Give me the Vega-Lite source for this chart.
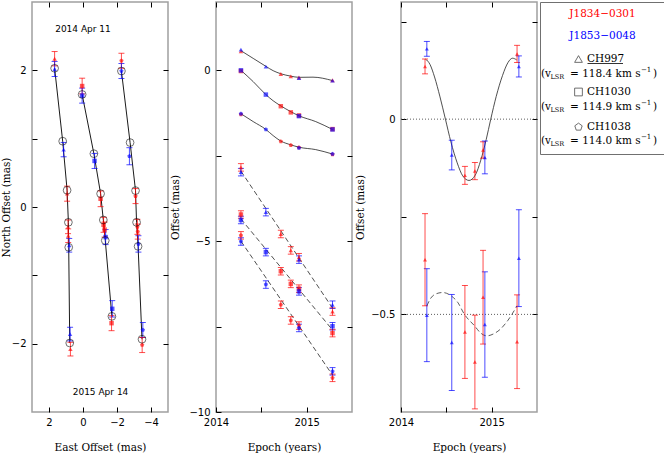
{
"$schema": "https://vega.github.io/schema/vega-lite/v6.json",
"background": "white",
"padding": {"left": 0, "top": 0, "right": 0, "bottom": 0},
"spacing": 0,
"config": {
  "view": {"stroke": "#a0a0a0", "strokeWidth": 1.5},
  "axis": {"domain": false, "grid": false, "tickSize": -5, "tickColor": "black", "tickWidth": 1, "labelPadding": 10, "labelFont": "DejaVu Sans", "labelFontSize": 10, "labelColor": "black", "labelFlush": false, "labelOverlap": false, "titleFont": "DejaVu Serif", "titleFontSize": 10.5, "titleFontWeight": "normal", "titleColor": "black"},
  "axisX": {"titlePadding": 15},
  "axisY": {"titlePadding": 1},
  "axisTop": {"labelPadding": 0, "minExtent": 0, "maxExtent": 0},
  "axisRight": {"labelPadding": 0, "minExtent": 0, "maxExtent": 0},
  "text": {"font": "DejaVu Serif"}
},
"datasets": {
  "track": [
    {"ch":"CH997","epoch":2014.275,"E":1.67,"N":2.03},
    {"ch":"CH997","epoch":2014.55,"E":1.195,"N":0.963},
    {"ch":"CH997","epoch":2014.715,"E":0.935,"N":0.245},
    {"ch":"CH997","epoch":2014.825,"E":0.86,"N":-0.224},
    {"ch":"CH997","epoch":2014.915,"E":0.84,"N":-0.59},
    {"ch":"CH997","epoch":2015.285,"E":0.78,"N":-1.99},
    {"ch":"CH1030","epoch":2014.275,"E":0.05,"N":1.647},
    {"ch":"CH1030","epoch":2014.55,"E":-0.64,"N":0.78},
    {"ch":"CH1030","epoch":2014.715,"E":-1.035,"N":0.195},
    {"ch":"CH1030","epoch":2014.825,"E":-1.195,"N":-0.19},
    {"ch":"CH1030","epoch":2014.915,"E":-1.31,"N":-0.49},
    {"ch":"CH1030","epoch":2015.285,"E":-1.70,"N":-1.60},
    {"ch":"CH1038","epoch":2014.275,"E":-2.26,"N":1.99},
    {"ch":"CH1038","epoch":2014.55,"E":-2.77,"N":0.943},
    {"ch":"CH1038","epoch":2014.715,"E":-3.09,"N":0.24},
    {"ch":"CH1038","epoch":2014.825,"E":-3.15,"N":-0.224},
    {"ch":"CH1038","epoch":2014.915,"E":-3.24,"N":-0.576},
    {"ch":"CH1038","epoch":2015.285,"E":-3.47,"N":-1.935}
  ],
  "pos": [
    {"ch":"CH997","src":"J1834−0301","epoch":2014.275,"E":1.67,"N":2.17,"err":0.105},
    {"ch":"CH997","src":"J1853−0048","epoch":2014.275,"E":1.67,"N":2.02,"err":0.11},
    {"ch":"CH997","src":"J1853−0048","epoch":2014.55,"E":1.14,"N":0.84,"err":0.105},
    {"ch":"CH997","src":"J1834−0301","epoch":2014.715,"E":0.935,"N":0.195,"err":0.11},
    {"ch":"CH997","src":"J1834−0301","epoch":2014.825,"E":0.88,"N":-0.29,"err":0.1},
    {"ch":"CH997","src":"J1834−0301","epoch":2014.915,"E":0.87,"N":-0.42,"err":0.1},
    {"ch":"CH997","src":"J1853−0048","epoch":2014.915,"E":0.81,"N":-0.56,"err":0.1},
    {"ch":"CH997","src":"J1834−0301","epoch":2015.285,"E":0.74,"N":-2.08,"err":0.1},
    {"ch":"CH997","src":"J1853−0048","epoch":2015.285,"E":0.76,"N":-1.86,"err":0.1},
    {"ch":"CH1030","src":"J1834−0301","epoch":2014.275,"E":0.05,"N":1.77,"err":0.115},
    {"ch":"CH1030","src":"J1853−0048","epoch":2014.275,"E":0.05,"N":1.63,"err":0.11},
    {"ch":"CH1030","src":"J1853−0048","epoch":2014.55,"E":-0.68,"N":0.674,"err":0.11},
    {"ch":"CH1030","src":"J1834−0301","epoch":2014.715,"E":-1.035,"N":0.12,"err":0.115},
    {"ch":"CH1030","src":"J1834−0301","epoch":2014.825,"E":-1.21,"N":-0.26,"err":0.11},
    {"ch":"CH1030","src":"J1834−0301","epoch":2014.915,"E":-1.27,"N":-0.33,"err":0.11},
    {"ch":"CH1030","src":"J1853−0048","epoch":2014.915,"E":-1.33,"N":-0.44,"err":0.11},
    {"ch":"CH1030","src":"J1853−0048","epoch":2015.285,"E":-1.72,"N":-1.49,"err":0.12},
    {"ch":"CH1030","src":"J1834−0301","epoch":2015.285,"E":-1.68,"N":-1.70,"err":0.11},
    {"ch":"CH1038","src":"J1834−0301","epoch":2014.275,"E":-2.26,"N":2.14,"err":0.11},
    {"ch":"CH1038","src":"J1853−0048","epoch":2014.275,"E":-2.26,"N":1.99,"err":0.11},
    {"ch":"CH1038","src":"J1853−0048","epoch":2014.55,"E":-2.73,"N":0.743,"err":0.125},
    {"ch":"CH1038","src":"J1834−0301","epoch":2014.715,"E":-3.09,"N":0.16,"err":0.11},
    {"ch":"CH1038","src":"J1834−0301","epoch":2014.825,"E":-3.2,"N":-0.29,"err":0.11},
    {"ch":"CH1038","src":"J1834−0301","epoch":2014.915,"E":-3.22,"N":-0.36,"err":0.11},
    {"ch":"CH1038","src":"J1853−0048","epoch":2014.915,"E":-3.26,"N":-0.54,"err":0.12},
    {"ch":"CH1038","src":"J1853−0048","epoch":2015.285,"E":-3.52,"N":-1.80,"err":0.11},
    {"ch":"CH1038","src":"J1834−0301","epoch":2015.285,"E":-3.48,"N":-2.02,"err":0.11}
  ],
  "notes": [
    {"E":0.0,"N":2.6,"label":"2014 Apr 11"},
    {"E":-1.03,"N":-2.7,"label":"2015 Apr 14"}
  ],
  "ts": [
    {"comp":"E","ch":"CH997","src":"J1834−0301","epoch":2014.275,"off":0.556,"err":0.02},
    {"comp":"E","ch":"CH997","src":"J1853−0048","epoch":2014.275,"off":0.605,"err":0.02},
    {"comp":"E","ch":"CH997","src":"J1853−0048","epoch":2014.55,"off":0.108,"err":0.02},
    {"comp":"E","ch":"CH997","src":"J1834−0301","epoch":2014.715,"off":-0.107,"err":0.02},
    {"comp":"E","ch":"CH997","src":"J1834−0301","epoch":2014.825,"off":-0.175,"err":0.02},
    {"comp":"E","ch":"CH997","src":"J1834−0301","epoch":2014.915,"off":-0.21,"err":0.02},
    {"comp":"E","ch":"CH997","src":"J1853−0048","epoch":2014.915,"off":-0.224,"err":0.02},
    {"comp":"E","ch":"CH997","src":"J1834−0301","epoch":2015.285,"off":-0.29,"err":0.02},
    {"comp":"E","ch":"CH997","src":"J1853−0048","epoch":2015.285,"off":-0.30,"err":0.02},
    {"comp":"E","ch":"CH1030","src":"J1834−0301","epoch":2014.275,"off":-0.02,"err":0.02},
    {"comp":"E","ch":"CH1030","src":"J1853−0048","epoch":2014.275,"off":0.0,"err":0.02},
    {"comp":"E","ch":"CH1030","src":"J1853−0048","epoch":2014.55,"off":-0.71,"err":0.02},
    {"comp":"E","ch":"CH1030","src":"J1834−0301","epoch":2014.715,"off":-1.05,"err":0.02},
    {"comp":"E","ch":"CH1030","src":"J1834−0301","epoch":2014.825,"off":-1.23,"err":0.02},
    {"comp":"E","ch":"CH1030","src":"J1834−0301","epoch":2014.915,"off":-1.32,"err":0.02},
    {"comp":"E","ch":"CH1030","src":"J1853−0048","epoch":2014.915,"off":-1.34,"err":0.02},
    {"comp":"E","ch":"CH1030","src":"J1834−0301","epoch":2015.285,"off":-1.72,"err":0.02},
    {"comp":"E","ch":"CH1030","src":"J1853−0048","epoch":2015.285,"off":-1.73,"err":0.02},
    {"comp":"E","ch":"CH1038","src":"J1834−0301","epoch":2014.275,"off":-1.29,"err":0.02},
    {"comp":"E","ch":"CH1038","src":"J1853−0048","epoch":2014.275,"off":-1.27,"err":0.02},
    {"comp":"E","ch":"CH1038","src":"J1853−0048","epoch":2014.55,"off":-1.73,"err":0.02},
    {"comp":"E","ch":"CH1038","src":"J1834−0301","epoch":2014.715,"off":-2.08,"err":0.02},
    {"comp":"E","ch":"CH1038","src":"J1834−0301","epoch":2014.825,"off":-2.19,"err":0.02},
    {"comp":"E","ch":"CH1038","src":"J1834−0301","epoch":2014.915,"off":-2.26,"err":0.02},
    {"comp":"E","ch":"CH1038","src":"J1853−0048","epoch":2014.915,"off":-2.27,"err":0.02},
    {"comp":"E","ch":"CH1038","src":"J1834−0301","epoch":2015.285,"off":-2.46,"err":0.02},
    {"comp":"E","ch":"CH1038","src":"J1853−0048","epoch":2015.285,"off":-2.45,"err":0.02},
    {"comp":"N","ch":"CH997","src":"J1834−0301","epoch":2014.275,"off":-2.84,"err":0.11},
    {"comp":"N","ch":"CH997","src":"J1853−0048","epoch":2014.275,"off":-2.98,"err":0.11},
    {"comp":"N","ch":"CH997","src":"J1853−0048","epoch":2014.55,"off":-4.15,"err":0.11},
    {"comp":"N","ch":"CH997","src":"J1834−0301","epoch":2014.715,"off":-4.79,"err":0.11},
    {"comp":"N","ch":"CH997","src":"J1834−0301","epoch":2014.825,"off":-5.27,"err":0.11},
    {"comp":"N","ch":"CH997","src":"J1834−0301","epoch":2014.915,"off":-5.47,"err":0.11},
    {"comp":"N","ch":"CH997","src":"J1853−0048","epoch":2014.915,"off":-5.54,"err":0.11},
    {"comp":"N","ch":"CH997","src":"J1834−0301","epoch":2015.285,"off":-7.06,"err":0.11},
    {"comp":"N","ch":"CH997","src":"J1853−0048","epoch":2015.285,"off":-6.86,"err":0.11},
    {"comp":"N","ch":"CH1030","src":"J1834−0301","epoch":2014.275,"off":-4.22,"err":0.11},
    {"comp":"N","ch":"CH1030","src":"J1853−0048","epoch":2014.275,"off":-4.38,"err":0.11},
    {"comp":"N","ch":"CH1030","src":"J1853−0048","epoch":2014.55,"off":-5.32,"err":0.11},
    {"comp":"N","ch":"CH1030","src":"J1834−0301","epoch":2014.715,"off":-5.88,"err":0.11},
    {"comp":"N","ch":"CH1030","src":"J1834−0301","epoch":2014.825,"off":-6.25,"err":0.11},
    {"comp":"N","ch":"CH1030","src":"J1834−0301","epoch":2014.915,"off":-6.39,"err":0.11},
    {"comp":"N","ch":"CH1030","src":"J1853−0048","epoch":2014.915,"off":-6.47,"err":0.11},
    {"comp":"N","ch":"CH1030","src":"J1834−0301","epoch":2015.285,"off":-7.69,"err":0.11},
    {"comp":"N","ch":"CH1030","src":"J1853−0048","epoch":2015.285,"off":-7.49,"err":0.11},
    {"comp":"N","ch":"CH1038","src":"J1834−0301","epoch":2014.275,"off":-4.83,"err":0.11},
    {"comp":"N","ch":"CH1038","src":"J1853−0048","epoch":2014.275,"off":-5.01,"err":0.11},
    {"comp":"N","ch":"CH1038","src":"J1853−0048","epoch":2014.55,"off":-6.27,"err":0.11},
    {"comp":"N","ch":"CH1038","src":"J1834−0301","epoch":2014.715,"off":-6.86,"err":0.11},
    {"comp":"N","ch":"CH1038","src":"J1834−0301","epoch":2014.825,"off":-7.32,"err":0.11},
    {"comp":"N","ch":"CH1038","src":"J1834−0301","epoch":2014.915,"off":-7.47,"err":0.11},
    {"comp":"N","ch":"CH1038","src":"J1853−0048","epoch":2014.915,"off":-7.54,"err":0.11},
    {"comp":"N","ch":"CH1038","src":"J1834−0301","epoch":2015.285,"off":-9.0,"err":0.11},
    {"comp":"N","ch":"CH1038","src":"J1853−0048","epoch":2015.285,"off":-8.81,"err":0.11}
  ],
  "tsmodel": [
    {"comp":"E","ch":"CH997","epoch":2014.275,"off":0.575},
    {"comp":"E","ch":"CH997","epoch":2014.41,"off":0.35},
    {"comp":"E","ch":"CH997","epoch":2014.55,"off":0.117},
    {"comp":"E","ch":"CH997","epoch":2014.63,"off":-0.01},
    {"comp":"E","ch":"CH997","epoch":2014.715,"off":-0.10},
    {"comp":"E","ch":"CH997","epoch":2014.825,"off":-0.17},
    {"comp":"E","ch":"CH997","epoch":2014.915,"off":-0.205},
    {"comp":"E","ch":"CH997","epoch":2015.07,"off":-0.2},
    {"comp":"E","ch":"CH997","epoch":2015.285,"off":-0.30},
    {"comp":"E","ch":"CH1030","epoch":2014.275,"off":0.0},
    {"comp":"E","ch":"CH1030","epoch":2014.41,"off":-0.33},
    {"comp":"E","ch":"CH1030","epoch":2014.55,"off":-0.71},
    {"comp":"E","ch":"CH1030","epoch":2014.63,"off":-0.89},
    {"comp":"E","ch":"CH1030","epoch":2014.715,"off":-1.04},
    {"comp":"E","ch":"CH1030","epoch":2014.825,"off":-1.21},
    {"comp":"E","ch":"CH1030","epoch":2014.915,"off":-1.33},
    {"comp":"E","ch":"CH1030","epoch":2015.1,"off":-1.50},
    {"comp":"E","ch":"CH1030","epoch":2015.285,"off":-1.73},
    {"comp":"E","ch":"CH1038","epoch":2014.275,"off":-1.27},
    {"comp":"E","ch":"CH1038","epoch":2014.41,"off":-1.50},
    {"comp":"E","ch":"CH1038","epoch":2014.55,"off":-1.73},
    {"comp":"E","ch":"CH1038","epoch":2014.63,"off":-1.91},
    {"comp":"E","ch":"CH1038","epoch":2014.715,"off":-2.07},
    {"comp":"E","ch":"CH1038","epoch":2014.825,"off":-2.18},
    {"comp":"E","ch":"CH1038","epoch":2014.915,"off":-2.25},
    {"comp":"E","ch":"CH1038","epoch":2015.1,"off":-2.32},
    {"comp":"E","ch":"CH1038","epoch":2015.285,"off":-2.45},
    {"comp":"N","ch":"CH997","epoch":2014.275,"off":-2.95},
    {"comp":"N","ch":"CH997","epoch":2015.285,"off":-6.96},
    {"comp":"N","ch":"CH1030","epoch":2014.275,"off":-4.35},
    {"comp":"N","ch":"CH1030","epoch":2015.285,"off":-7.60},
    {"comp":"N","ch":"CH1038","epoch":2014.275,"off":-5.0},
    {"comp":"N","ch":"CH1038","epoch":2015.285,"off":-8.92}
  ],
  "par": [
    {"comp":"A","src":"J1834−0301","epoch":2014.265,"off":0.135,"err":0.019},
    {"comp":"A","src":"J1853−0048","epoch":2014.285,"off":0.18,"err":0.019},
    {"comp":"A","src":"J1853−0048","epoch":2014.56,"off":-0.092,"err":0.038},
    {"comp":"A","src":"J1834−0301","epoch":2014.705,"off":-0.144,"err":0.023},
    {"comp":"A","src":"J1834−0301","epoch":2014.815,"off":-0.133,"err":0.022},
    {"comp":"A","src":"J1834−0301","epoch":2014.905,"off":-0.079,"err":0.021},
    {"comp":"A","src":"J1853−0048","epoch":2014.925,"off":-0.098,"err":0.042},
    {"comp":"A","src":"J1834−0301","epoch":2015.28,"off":0.167,"err":0.022},
    {"comp":"A","src":"J1853−0048","epoch":2015.30,"off":0.135,"err":0.027},
    {"comp":"B","src":"J1834−0301","epoch":2014.265,"off":-0.36,"err":0.118},
    {"comp":"B","src":"J1853−0048","epoch":2014.285,"off":-0.502,"err":0.119},
    {"comp":"B","src":"J1853−0048","epoch":2014.56,"off":-0.572,"err":0.123},
    {"comp":"B","src":"J1834−0301","epoch":2014.705,"off":-0.545,"err":0.119},
    {"comp":"B","src":"J1834−0301","epoch":2014.815,"off":-0.622,"err":0.12},
    {"comp":"B","src":"J1834−0301","epoch":2014.905,"off":-0.456,"err":0.12},
    {"comp":"B","src":"J1853−0048","epoch":2014.925,"off":-0.526,"err":0.135},
    {"comp":"B","src":"J1834−0301","epoch":2015.28,"off":-0.57,"err":0.12},
    {"comp":"B","src":"J1853−0048","epoch":2015.30,"off":-0.356,"err":0.124}
  ],
  "parmodel": [
    {"comp":"A","epoch":2014.27,"off":0.154},
    {"comp":"A","epoch":2014.32,"off":0.140},
    {"comp":"A","epoch":2014.37,"off":0.108},
    {"comp":"A","epoch":2014.43,"off":0.057},
    {"comp":"A","epoch":2014.49,"off":0.0},
    {"comp":"A","epoch":2014.55,"off":-0.058},
    {"comp":"A","epoch":2014.62,"off":-0.112},
    {"comp":"A","epoch":2014.68,"off":-0.145},
    {"comp":"A","epoch":2014.75,"off":-0.157},
    {"comp":"A","epoch":2014.82,"off":-0.143},
    {"comp":"A","epoch":2014.88,"off":-0.105},
    {"comp":"A","epoch":2014.94,"off":-0.052},
    {"comp":"A","epoch":2014.99,"off":0.0},
    {"comp":"A","epoch":2015.05,"off":0.058},
    {"comp":"A","epoch":2015.12,"off":0.112},
    {"comp":"A","epoch":2015.18,"off":0.145},
    {"comp":"A","epoch":2015.23,"off":0.156},
    {"comp":"A","epoch":2015.275,"off":0.152},
    {"comp":"B","epoch":2014.285,"off":-0.478},
    {"comp":"B","epoch":2014.33,"off":-0.458},
    {"comp":"B","epoch":2014.38,"off":-0.448},
    {"comp":"B","epoch":2014.46,"off":-0.444},
    {"comp":"B","epoch":2014.55,"off":-0.452},
    {"comp":"B","epoch":2014.625,"off":-0.469},
    {"comp":"B","epoch":2014.70,"off":-0.50},
    {"comp":"B","epoch":2014.81,"off":-0.529},
    {"comp":"B","epoch":2014.88,"off":-0.548},
    {"comp":"B","epoch":2014.945,"off":-0.555},
    {"comp":"B","epoch":2015.02,"off":-0.550},
    {"comp":"B","epoch":2015.10,"off":-0.537},
    {"comp":"B","epoch":2015.18,"off":-0.515},
    {"comp":"B","epoch":2015.28,"off":-0.478}
  ],
  "levels": [{"level": 0}, {"level": -0.5}],
  "leg": [
    {"line":1,"txt":"J1834−0301","kind":"src"},
    {"line":2,"txt":"J1853−0048","kind":"src"},
    {"line":3,"vline":4,"txt":"CH997","kind":"ch","v":"118.4"},
    {"line":5,"vline":6,"txt":"CH1030","kind":"ch","v":"114.9"},
    {"line":7,"vline":8,"txt":"CH1038","kind":"ch","v":"114.0"}
  ]
},
"hconcat": [
  {
    "width": 136, "height": 410,
    "view": {"stroke": "#a0a0a0", "strokeWidth": 1.5},
    "resolve": {"axis": {"x": "independent", "y": "independent"}},
    "layer": [
      {"data": {"name": "track"},
       "mark": {"type": "line", "color": "black", "strokeWidth": 0.9},
       "encoding": {
         "x": {"field": "E", "type": "quantitative", "scale": {"domain": [-5, 3], "reverse": true, "nice": false, "zero": false}, "axis": {"values": [2, 0, -2, -4], "title": "East Offset (mas)"}},
         "y": {"field": "N", "type": "quantitative", "scale": {"domain": [-3, 3], "nice": false, "zero": false}, "axis": {"values": [-2, -1, 0, 1, 2], "labelExpr": "datum.value % 2 == 0 ? datum.label : ''", "title": "North Offset (mas)", "titlePadding": 0, "labelPadding": 11}},
         "detail": {"field": "ch"},
         "order": {"field": "epoch", "type": "quantitative"}}},
      {"data": {"name": "pos"},
       "mark": {"type": "errorbar", "ticks": {"size": 6, "opacity": 0.7}, "rule": {"opacity": 0.7}},
       "encoding": {
         "x": {"field": "E", "type": "quantitative", "axis": null},
         "y": {"field": "N", "type": "quantitative", "axis": null},
         "yError": {"field": "err"},
         "color": {"field": "src", "type": "nominal", "scale": {"domain": ["J1834−0301", "J1853−0048"], "range": ["#ff0000", "#0000ff"]}, "legend": null}}},
      {"data": {"name": "pos"},
       "mark": {"type": "point", "filled": true, "opacity": 0.65, "size": 20},
       "encoding": {
         "x": {"field": "E", "type": "quantitative", "axis": null},
         "y": {"field": "N", "type": "quantitative", "axis": null},
         "color": {"field": "src", "type": "nominal", "scale": {"domain": ["J1834−0301", "J1853−0048"], "range": ["#ff0000", "#0000ff"]}, "legend": null},
         "shape": {"field": "ch", "type": "nominal", "scale": {"domain": ["CH997", "CH1030", "CH1038"], "range": ["triangle-up", "square", "M0,-1L0.951,-0.309L0.588,0.809L-0.588,0.809L-0.951,-0.309Z"]}, "legend": null}}},
      {"data": {"name": "track"},
       "mark": {"type": "point", "shape": "circle", "filled": false, "color": "black", "size": 60, "strokeWidth": 0.8},
       "encoding": {
         "x": {"field": "E", "type": "quantitative", "axis": null},
         "y": {"field": "N", "type": "quantitative", "axis": null}}},
      {"data": {"name": "notes"},
       "mark": {"type": "text", "font": "DejaVu Sans", "fontSize": 9, "color": "black"},
       "encoding": {
         "x": {"field": "E", "type": "quantitative", "axis": null},
         "y": {"field": "N", "type": "quantitative", "axis": null},
         "text": {"field": "label"}}},
      {"data": {"name": "track"},
       "mark": {"type": "point", "opacity": 0},
       "encoding": {
         "x": {"field": "E", "type": "quantitative", "axis": {"orient": "top", "values": [2, 0, -2, -4], "labels": false, "title": null}},
         "y": {"field": "N", "type": "quantitative", "axis": {"orient": "right", "values": [-2, -1, 0, 1, 2], "labels": false, "title": null}}}}
    ]
  },
  {
    "width": 136, "height": 410,
    "view": {"stroke": "#a0a0a0", "strokeWidth": 1.5},
    "resolve": {"axis": {"x": "independent", "y": "independent"}},
    "layer": [
      {"data": {"name": "tsmodel"},
       "transform": [{"filter": "datum.comp == 'E'"}],
       "mark": {"type": "line", "color": "#222222", "strokeWidth": 0.8, "interpolate": "monotone"},
       "encoding": {
         "x": {"field": "epoch", "type": "quantitative", "scale": {"domain": [2014, 2015.5], "nice": false, "zero": false}, "axis": {"values": [2014, 2014.5, 2015], "labelExpr": "datum.value % 1 == 0 ? format(datum.value, 'd') : ''", "title": "Epoch (years)"}},
         "y": {"field": "off", "type": "quantitative", "scale": {"domain": [-10, 2], "nice": false, "zero": false}, "axis": {"values": [-10, -7.5, -5, -2.5, 0], "labelExpr": "datum.value % 5 == 0 ? format(datum.value, 'd') : ''", "title": "Offset (mas)", "titlePadding": 8, "labelPadding": 11}},
         "detail": {"field": "ch"},
         "order": {"field": "epoch", "type": "quantitative"}}},
      {"data": {"name": "tsmodel"},
       "transform": [{"filter": "datum.comp == 'N'"}],
       "mark": {"type": "line", "color": "#222222", "strokeWidth": 0.8, "strokeDash": [5, 3]},
       "encoding": {
         "x": {"field": "epoch", "type": "quantitative", "axis": null},
         "y": {"field": "off", "type": "quantitative", "axis": null},
         "detail": {"field": "ch"}}},
      {"data": {"name": "ts"},
       "transform": [{"filter": "datum.comp == 'N'"}],
       "mark": {"type": "errorbar", "ticks": {"size": 6, "opacity": 0.7}, "rule": {"opacity": 0.7}},
       "encoding": {
         "x": {"field": "epoch", "type": "quantitative", "axis": null},
         "y": {"field": "off", "type": "quantitative", "axis": null},
         "yError": {"field": "err"},
         "color": {"field": "src", "type": "nominal", "scale": {"domain": ["J1834−0301", "J1853−0048"], "range": ["#ff0000", "#0000ff"]}, "legend": null}}},
      {"data": {"name": "ts"},
       "mark": {"type": "point", "filled": true, "opacity": 0.65, "size": 20},
       "encoding": {
         "x": {"field": "epoch", "type": "quantitative", "axis": null},
         "y": {"field": "off", "type": "quantitative", "axis": null},
         "color": {"field": "src", "type": "nominal", "scale": {"domain": ["J1834−0301", "J1853−0048"], "range": ["#ff0000", "#0000ff"]}, "legend": null},
         "shape": {"field": "ch", "type": "nominal", "scale": {"domain": ["CH997", "CH1030", "CH1038"], "range": ["triangle-up", "square", "M0,-1L0.951,-0.309L0.588,0.809L-0.588,0.809L-0.951,-0.309Z"]}, "legend": null}}},
      {"data": {"name": "ts"},
       "mark": {"type": "point", "opacity": 0},
       "encoding": {
         "x": {"field": "epoch", "type": "quantitative", "axis": {"orient": "top", "values": [2014, 2014.5, 2015], "labels": false, "title": null}},
         "y": {"field": "off", "type": "quantitative", "axis": {"orient": "right", "values": [-7.5, -5, -2.5, 0], "labels": false, "title": null}}}}
    ]
  },
  {
    "width": 136, "height": 410,
    "view": {"stroke": "#a0a0a0", "strokeWidth": 1.5},
    "resolve": {"axis": {"x": "independent", "y": "independent"}},
    "layer": [
      {"data": {"name": "levels"},
       "mark": {"type": "rule", "color": "#333333", "strokeWidth": 0.8, "strokeDash": [1, 2]},
       "encoding": {
         "y": {"field": "level", "type": "quantitative", "scale": {"domain": [-0.75, 0.3], "nice": false, "zero": false}, "axis": {"values": [0.25, 0, -0.25, -0.5], "labelExpr": "datum.value == 0 ? '0' : (datum.value == -0.5 ? '−0.5' : '')", "title": "Offset (mas)", "titlePadding": 5, "labelPadding": 11}}}},
      {"data": {"name": "parmodel"},
       "transform": [{"filter": "datum.comp == 'A'"}],
       "mark": {"type": "line", "color": "#222222", "strokeWidth": 0.8, "interpolate": "monotone"},
       "encoding": {
         "x": {"field": "epoch", "type": "quantitative", "scale": {"domain": [2014, 2015.5], "nice": false, "zero": false}, "axis": {"values": [2014, 2014.5, 2015], "labelExpr": "datum.value % 1 == 0 ? format(datum.value, 'd') : ''", "title": "Epoch (years)"}},
         "y": {"field": "off", "type": "quantitative", "axis": null},
         "order": {"field": "epoch", "type": "quantitative"}}},
      {"data": {"name": "parmodel"},
       "transform": [{"filter": "datum.comp == 'B'"}],
       "mark": {"type": "line", "color": "#333333", "strokeWidth": 0.8, "strokeDash": [5, 3], "interpolate": "monotone"},
       "encoding": {
         "x": {"field": "epoch", "type": "quantitative", "axis": null},
         "y": {"field": "off", "type": "quantitative", "axis": null},
         "order": {"field": "epoch", "type": "quantitative"}}},
      {"data": {"name": "par"},
       "mark": {"type": "errorbar", "ticks": {"size": 6, "opacity": 0.7}, "rule": {"opacity": 0.7}},
       "encoding": {
         "x": {"field": "epoch", "type": "quantitative", "axis": null},
         "y": {"field": "off", "type": "quantitative", "axis": null},
         "yError": {"field": "err"},
         "color": {"field": "src", "type": "nominal", "scale": {"domain": ["J1834−0301", "J1853−0048"], "range": ["#ff0000", "#0000ff"]}, "legend": null}}},
      {"data": {"name": "par"},
       "mark": {"type": "point", "filled": true, "opacity": 0.65, "size": 16, "shape": "triangle-up"},
       "encoding": {
         "x": {"field": "epoch", "type": "quantitative", "axis": null},
         "y": {"field": "off", "type": "quantitative", "axis": null},
         "color": {"field": "src", "type": "nominal", "scale": {"domain": ["J1834−0301", "J1853−0048"], "range": ["#ff0000", "#0000ff"]}, "legend": null}}},
      {"data": {"name": "par"},
       "mark": {"type": "point", "opacity": 0},
       "encoding": {
         "x": {"field": "epoch", "type": "quantitative", "axis": {"orient": "top", "values": [2014, 2014.5, 2015], "labels": false, "title": null}},
         "y": {"field": "off", "type": "quantitative", "axis": {"orient": "right", "values": [0.25, 0, -0.25, -0.5], "labels": false, "title": null}}}}
    ]
  },
  {
    "width": 125, "height": 152,
    "view": {"stroke": "#707070", "strokeWidth": 1},
    "data": {"name": "leg"},
    "layer": [
      {"transform": [{"filter": "datum.kind == 'src'"}],
       "mark": {"type": "text", "align": "center", "baseline": "middle", "fontSize": 10.5, "font": "DejaVu Serif"},
       "encoding": {
         "x": {"datum": 62.5, "type": "quantitative", "scale": {"domain": [0, 125], "nice": false, "zero": false}, "axis": null},
         "y": {"field": "line", "type": "quantitative", "scale": {"domain": [1, 2, 3, 4, 5, 6, 7, 8], "range": [12, 34, 57, 72, 90, 105, 125, 139], "nice": false, "zero": false}, "axis": null},
         "text": {"field": "txt"},
         "color": {"field": "txt", "type": "nominal", "scale": {"domain": ["J1834−0301", "J1853−0048"], "range": ["#ff0000", "#0000ff"]}, "legend": null}}},
      {"transform": [{"filter": "datum.kind == 'ch'"}],
       "mark": {"type": "point", "filled": false, "color": "black", "size": 60, "strokeWidth": 0.8},
       "encoding": {
         "x": {"datum": 38.5, "type": "quantitative", "axis": null},
         "y": {"field": "line", "type": "quantitative", "axis": null},
         "shape": {"field": "txt", "type": "nominal", "scale": {"domain": ["CH997", "CH1030", "CH1038"], "range": ["triangle-up", "square", "M0,-1L0.951,-0.309L0.588,0.809L-0.588,0.809L-0.951,-0.309Z"]}, "legend": null}}},
      {"transform": [{"filter": "datum.kind == 'ch'"}],
       "mark": {"type": "text", "align": "left", "baseline": "middle", "fontSize": 10.5, "font": "DejaVu Serif", "color": "black"},
       "encoding": {
         "x": {"datum": 47, "type": "quantitative", "axis": null},
         "y": {"field": "line", "type": "quantitative", "axis": null},
         "text": {"field": "txt"}}},
      {"transform": [{"filter": "datum.txt == 'CH997'"}],
       "mark": {"type": "rule", "color": "black", "strokeWidth": 0.8},
       "encoding": {
         "x": {"datum": 47.5, "type": "quantitative", "axis": null},
         "x2": {"datum": 83},
         "y": {"datum": 3.3, "type": "quantitative", "axis": null}}},
      {"transform": [{"filter": "datum.kind == 'ch'"}],
       "mark": {"type": "text", "align": "left", "baseline": "middle", "fontSize": 10.5, "font": "DejaVu Serif", "color": "black"},
       "encoding": {
         "x": {"datum": 1, "type": "quantitative", "axis": null},
         "y": {"field": "vline", "type": "quantitative", "axis": null},
         "text": {"value": "(v"}}},
      {"transform": [{"filter": "datum.kind == 'ch'"}],
       "mark": {"type": "text", "align": "left", "baseline": "middle", "fontSize": 6.5, "font": "DejaVu Serif", "color": "black", "dy": 3},
       "encoding": {
         "x": {"datum": 10.5, "type": "quantitative", "axis": null},
         "y": {"field": "vline", "type": "quantitative", "axis": null},
         "text": {"value": "LSR"}}},
      {"transform": [{"filter": "datum.kind == 'ch'"}, {"calculate": "'= ' + datum.v + ' km s'", "as": "vt"}],
       "mark": {"type": "text", "align": "left", "baseline": "middle", "fontSize": 10.5, "font": "DejaVu Serif", "color": "black"},
       "encoding": {
         "x": {"datum": 30, "type": "quantitative", "axis": null},
         "y": {"field": "vline", "type": "quantitative", "axis": null},
         "text": {"field": "vt"}}},
      {"transform": [{"filter": "datum.kind == 'ch'"}],
       "mark": {"type": "text", "align": "left", "baseline": "middle", "fontSize": 7, "font": "DejaVu Serif", "color": "black", "dy": -4},
       "encoding": {
         "x": {"datum": 101, "type": "quantitative", "axis": null},
         "y": {"field": "vline", "type": "quantitative", "axis": null},
         "text": {"value": "−1"}}},
      {"transform": [{"filter": "datum.kind == 'ch'"}],
       "mark": {"type": "text", "align": "left", "baseline": "middle", "fontSize": 10.5, "font": "DejaVu Serif", "color": "black"},
       "encoding": {
         "x": {"datum": 113, "type": "quantitative", "axis": null},
         "y": {"field": "vline", "type": "quantitative", "axis": null},
         "text": {"value": ")"}}}
    ]
  }
]
}
